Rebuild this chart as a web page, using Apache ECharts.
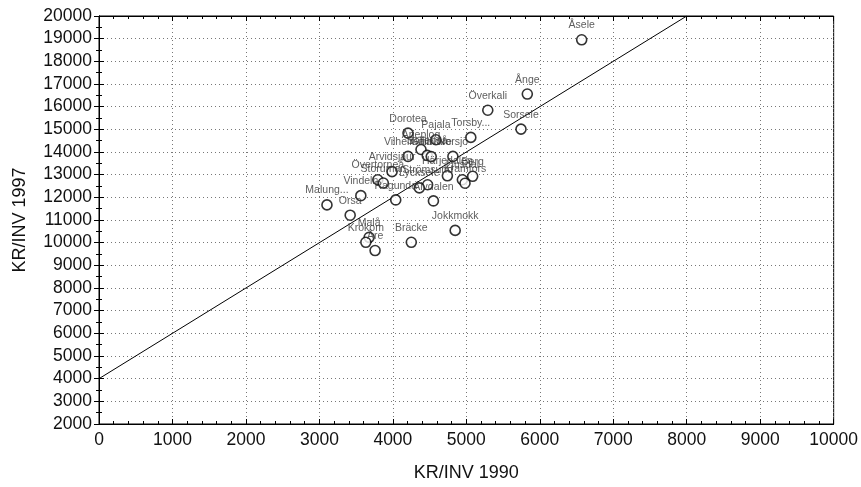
<!DOCTYPE html>
<html><head><meta charset="utf-8">
<script src="https://cdn.jsdelivr.net/npm/echarts@6/dist/echarts.min.js"></script>
<style>html,body{margin:0;padding:0;background:#fff}#c{width:861px;height:487px}</style>
</head><body><div id="c"></div>
<script>
const names = ["Åsele","Ånge","Överkali","Sorsele","Torsby...","Dorotea","Pajala","Arjeplog","Sollefteå","Gällivare","Vilhelmina","Norsjö","Arvidsjaur","Övertorneå","Storuman","Strömsund","Lycksele","Härjedalen","Berg","Ljusdal","Kramfors","Vindeln","Malung...","Orsa","Ragunda","Älvdalen","Jokkmokk","Bräcke","Malå","Krokom","Åre"];
const kr1990 = [6570,5830,5292,5744,5061,4206,4586,4383,4468,4522,4206,4817,3989,3795,3870,4473,4360,4742,5086,4946,4982,3564,3103,3419,4039,4552,4848,4251,3677,3632,3758];
const kr1997 = [18950,16556,15841,15009,14645,14834,14541,14111,13849,13796,13805,13805,13134,12775,12631,12556,12416,12950,12928,12775,12622,12074,11667,11212,11886,11842,10541,10016,10235,10016,9652];
const fitX = [0, 8000];
const fitY = [4000, 20000];
const xTicks = {min:0, max:10000, interval:1000};
const yTicks = {min:2000, max:20000, interval:1000};

const font = '"Liberation Sans", Arial, sans-serif';
const pts = names.map((n,i)=>({name:n, value:[kr1990[i], kr1997[i]]}));
const fit = fitX.map((x,i)=>[x, fitY[i]]);
const tick = {show:true, inside:true, length:5, lineStyle:{color:'#000'}};
const minor = {show:true, length:3, lineStyle:{color:'#000'}};
const plain = v => String(v);
const chart = echarts.init(document.getElementById('c'), null, {renderer:'canvas'});
chart.setOption({
  animation:false,
  backgroundColor:'#fff',
  grid:{left:99, right:25, top:16, bottom:60, show:true, borderColor:'#000', borderWidth:1, containLabel:false},
  xAxis:[{type:'value', min:xTicks.min, max:xTicks.max, interval:xTicks.interval,
    name:'KR/INV 1990', nameLocation:'middle', nameGap:40,
    nameTextStyle:{fontFamily:font, fontSize:18, color:'#111'},
    axisLine:{show:true, lineStyle:{color:'#000'}}, axisTick:tick, minorTick:Object.assign({splitNumber:5}, minor),
    axisLabel:{fontFamily:font, fontSize:17.5, color:'#111', margin:7, formatter:plain},
    splitLine:{show:true, lineStyle:{color:'#777', type:[1,3]}}},
   {type:'value', position:'top', min:xTicks.min, max:xTicks.max, interval:xTicks.interval,
    axisLine:{show:true, lineStyle:{color:'#000'}}, axisTick:tick, minorTick:Object.assign({splitNumber:5}, minor),
    axisLabel:{show:false}, splitLine:{show:false}}],
  yAxis:[{type:'value', min:yTicks.min, max:yTicks.max, interval:yTicks.interval,
    name:'KR/INV 1997', nameLocation:'middle', nameGap:70, nameRotate:90,
    nameTextStyle:{fontFamily:font, fontSize:18, color:'#111'},
    axisLine:{show:true, lineStyle:{color:'#000'}}, axisTick:tick, minorTick:Object.assign({splitNumber:2}, minor),
    axisLabel:{fontFamily:font, fontSize:17.5, color:'#111', margin:7, formatter:plain},
    splitLine:{show:true, lineStyle:{color:'#777', type:[1,3]}}},
   {type:'value', position:'right', min:yTicks.min, max:yTicks.max, interval:yTicks.interval,
    axisLine:{show:true, lineStyle:{color:'#000'}}, axisTick:tick, minorTick:Object.assign({splitNumber:2}, minor),
    axisLabel:{show:false}, splitLine:{show:false}}],
  series:[
    {type:'line', data:fit, xAxisIndex:0, yAxisIndex:0, symbol:'none', clip:true,
     lineStyle:{color:'#000', width:1}, silent:true, z:3},
    {type:'scatter', data:pts, xAxisIndex:0, yAxisIndex:0, symbol:'circle', symbolSize:10,
     itemStyle:{color:'#fff', borderColor:'#000', borderWidth:1.6},
     label:{show:true, position:'top', distance:3, formatter:p=>p.name,
       fontFamily:font, fontSize:10.5, color:'#333'}, labelLayout:{hideOverlap:false}, z:4}
  ]
});
</script></body></html>
